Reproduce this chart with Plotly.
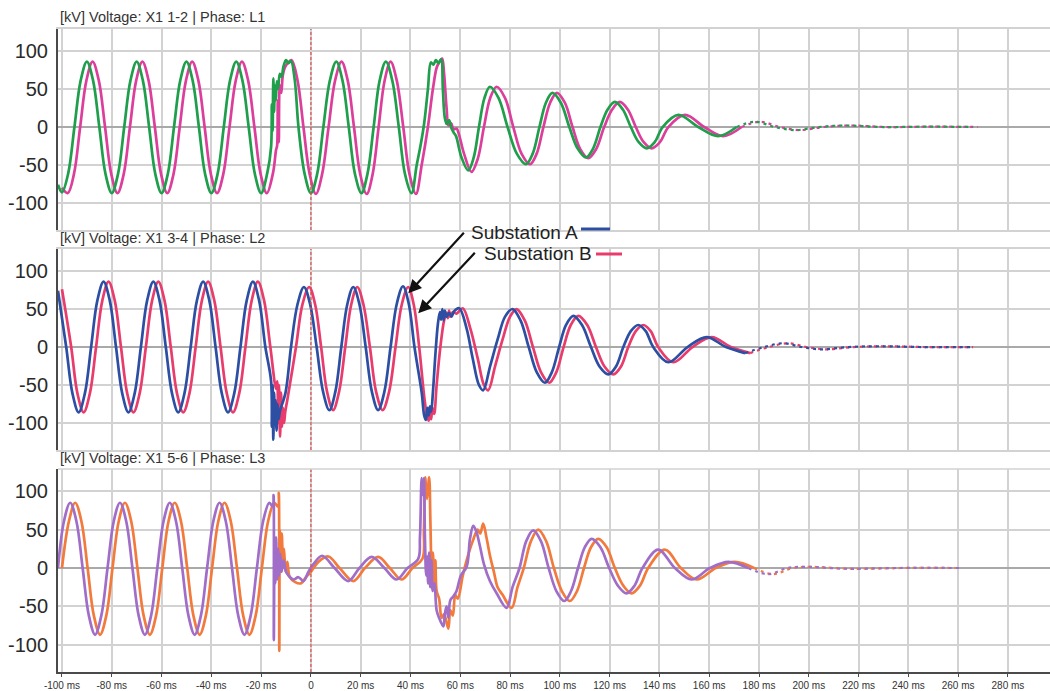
import numpy as np
import plotly.graph_objects as go

# ---------------- DATA (key points: time in ms, voltage in kV) ----------------
# Phase L1 (A = green, B = magenta)
l1_a_t = [-101.6, -100, -97.5, -95, -92.5, -90, -87.5, -85, -82.5, -80, -77.5, -75, -72.5, -70, -67.5, -65,
          -62.5, -60, -57.5, -55, -52.5, -50, -47.5, -45, -42.5, -40, -37.5, -35, -32.5, -30, -27.5, -25,
          -22.5, -20, -17.5,
          -16, -15.7, -15.4, -15.1, -14.8, -14.5, -14.1, -13.7, -13.2, -12.5, -11.8, -11, -10, -9, -8,
          -6.5, -5, -2.5, 0, 2.5, 5, 7.6, 10.2, 12.7, 15.2, 17.7, 20.3, 22.7, 25.2, 27.6, 30.1, 32.7, 35.3,
          37.8, 40.4,
          42.5, 44, 45.5, 47, 48.2, 49.2, 50.2, 51.2, 52.3, 53, 53.8, 54.6, 55.5, 56.5, 57.5, 58.3, 60.5, 63.2,
          65.4, 67.5, 69.7, 71.9, 75.4, 79, 82.7, 86.4, 89.1, 91.8, 94.4, 97, 100.4, 103.8, 107.1, 110.5,
          113.4, 116.3, 119.2, 122.1, 125.3, 128.5, 131.7, 134.9, 138.1, 141.3,
          147.6, 155.6, 163.6, 171, 178.4, 186.4, 194.4, 204, 213.9, 230, 248, 266]
l1_a_v = [-76, -86, -61, 0, 61, 86, 61, 0, -62, -87, -62, 0, 61, 86, 61, 0,
          -62, -87, -62, 0, 61, 86, 61, 0, -62, -87, -62, 0, 61, 86, 61, 0,
          -62, -87, -60,
          -26, 30, -5, 64, 20, 55, 35, 60, 50, 70, 66, 80, 88, 84, 87,
          62, 0, -62, -87, -62, 0, 61, 86, 61, 0, -62, -87, -62, 0, 61, 86, 61, 0,
          -62, -87,
          -50, -25, 5, 50, 85, 82, 88, 84, 89, 50, 12, 4, 9, -2, -8, -12, -40, -57,
          -40, 0, 38, 53, 38, 0, -35, -49, -35, 0, 32, 45, 32, 0, -28, -40,
          -28, 0, 23, 33, 23, 0, -20, -28, -20, 0,
          16, 0, -12, 0, 7, 0, -4, 0, 2, 0, 0.5, 0]
l1_b_t = [-100, -97.7, -95.2, -92.7, -90.2, -87.7, -85.2, -82.7, -80.2, -77.7, -75.2, -72.7, -70.2, -67.7,
          -65.2, -62.7, -60.2, -57.7, -55.2, -52.7, -50.2, -47.7, -45.2, -42.7, -40.2, -37.7, -35.2, -32.7,
          -30.2, -27.7, -25.2, -22.7, -20.2, -17.7,
          -15.2, -14, -13.6, -13.3, -12.9, -12.5, -11.9, -11.3, -10.5, -9.3, -7.8,
          -5.4, -3, -0.5, 2, 4.5, 7.1, 9.7, 12.3, 14.8, 17.3, 19.8, 22.4, 24.8, 27.2, 29.6, 32, 34.5, 37.1,
          39.6, 42.2,
          44.5, 47, 49, 50.5, 51.5, 52.7, 53.5, 54.5, 55.3, 56.3, 57.3, 58.5, 59.5, 61.5, 64.5,
          67, 69.5, 72, 74.6, 78, 81.3, 84.6, 88, 90.7, 93.4, 96.1, 98.8, 102, 105.1, 108.2, 111.4,
          114.6, 117.8, 121, 124.1, 127.3, 130.5, 133.7, 136.9, 140.2, 143.6,
          150.3, 158, 165.6, 173, 180.4, 188.4, 196.4, 206, 215.9, 232, 250, 268]
l1_b_v = [-80, -87, -62, 0, 61, 86, 61, 0, -62, -87, -62, 0, 61, 86,
          61, 0, -62, -87, -62, 0, 61, 86, 61, 0, -62, -87, -62, 0,
          61, 86, 61, 0, -62, -87,
          -60, -30, -25, 35, -20, 55, 45, 68, 78, 84, 88,
          62, 0, -62, -88, -62, 0, 61, 86, 61, 0, -62, -88, -62, 0, 61, 86, 61, 0,
          -62, -88,
          -50, 0, 50, 78, 85, 90, 70, 25, 2, 5, -3, -2, -10, -35, -59,
          -42, 0, 38, 53, 38, 0, -35, -49, -35, 0, 32, 45, 32, 0, -29, -41,
          -29, 0, 23, 33, 23, 0, -20, -28, -20, 0,
          16, 0, -12, 0, 7, 0, -4, 0, 2, 0, 0.5, 0]

# Phase L2 (A = blue, B = red)
l2_a_t = [-101.6, -98.3, -95.8, -93.3, -90.8, -88.3, -85.8, -83.3, -80.8, -78.3, -75.8, -73.3, -70.8, -68.3,
          -65.8, -63.3, -60.8, -58.3, -55.8, -53.3, -50.8, -48.3, -45.8, -43.3, -40.8, -38.3, -35.8, -33.3,
          -30.8, -28.3, -25.8, -23.3, -20.8, -18.3,
          -16, -15.7, -15.4, -15.1, -14.8, -14.5, -14.2, -13.8, -13.4, -13, -12.5,
          -10.2, -8, -5.4, -2.8, -0.3, 2.3, 4.9, 7.4, 9.8, 12.2, 14.6, 17, 19.5, 22, 24.5, 27, 29.5, 32, 34.5,
          37, 39.3, 41.6,
          44.5, 45.5, 46.2, 46.8, 47.3, 47.8, 48.3, 49, 50, 51, 51.8, 52.3, 52.8, 53.3, 53.8, 54.5, 55.5, 56.5,
          57.5, 59.6, 62.5, 65, 67.5, 69.2, 72, 75, 78, 81,
          84.2, 87.5, 90.7, 94, 96.8, 99.7, 102.5, 105.4, 108.9, 112.5, 116, 119.5, 122.5, 125.5, 128.5,
          131.5, 134.5, 137.5,
          143.6, 151.3, 159, 166.7, 174.4, 182, 189.8, 197, 205, 216, 228, 245, 265]
l2_a_v = [74, 0, -61, -86, -61, 0, 61, 86, 61, 0, -61, -86, -61, 0,
          61, 86, 61, 0, -61, -86, -61, 0, 61, 86, 61, 0, -61, -86,
          -61, 0, 61, 86, 61, 0,
          -45, -105, -50, -122, -60, -95, -70, -110, -75, -95, -85,
          -60, 0, 56, 79, 56, 0, -59, -83, -59, 0, 56, 79, 56, 0, -59, -83, -59, 0, 57,
          80, 57, 0,
          -60, -90, -96, -80, -90, -78, -85, -60, -10, 30, 46, 36, 50, 35, 48, 40, 45, 40,
          47, 51, 25, -15, -50, -57, -25, 10, 40, 50,
          35, 0, -33, -47, -33, 0, 29, 41, 29, 0, -26, -36, -26, 0, 21,
          29, 21, 0,
          -20, 0, 13, 0, -8, 0, 5, 0, -3, 0, 1, 0, 0]
l2_b_t = [-100, -96.3, -93.8, -91.3, -88.8, -86.3, -83.8, -81.3, -78.8, -76.3, -73.8, -71.3, -68.8, -66.3,
          -63.8, -61.3, -58.8, -56.3, -53.8, -51.3, -48.8, -46.3, -43.8, -41.3, -38.8, -36.3, -33.8, -31.3,
          -28.8, -26.3, -23.8, -21.3, -18.8, -16.3,
          -14, -13.5, -13.2, -12.8, -12.4, -12, -11.6, -11.2, -10.8, -10.3, -9.5,
          -6, -3.4, -0.7, 1.7, 4.1, 6.5, 8.9, 11.3, 13.8, 16.2, 18.6, 21.1, 23.7, 26.2, 28.8, 31.4, 34, 36.5,
          39.1, 41.3, 43.5,
          45.5, 46.5, 47.3, 47.8, 48.3, 48.8, 49.5, 50.5, 52, 53.5, 54.5, 55, 55.5, 56, 57, 58.5, 61, 64, 67,
          69.5, 71.2, 74, 77, 80, 82.6,
          85.9, 89.2, 92.4, 95.7, 98.6, 101.5, 104.4, 107.4, 111, 114.5, 118, 121.5, 124.5, 127.5, 130.5,
          133.5, 136.5, 139.5,
          145.6, 153.3, 161, 168.7, 176.4, 184, 191.8, 199, 207, 218, 230, 247, 266]
l2_b_v = [76, 0, -61, -86, -61, 0, 61, 86, 61, 0, -61, -86, -61, 0,
          61, 86, 61, 0, -61, -86, -61, 0, 61, 86, 61, 0, -61, -86,
          -61, 0, 61, 86, 61, 0,
          -55, -45, -100, -50, -118, -60, -105, -80, -100, -85, -70,
          0, 56, 79, 56, 0, -59, -83, -59, 0, 56, 79, 56, 0, -59, -83, -59, 0, 56,
          79, 56, 0,
          -65, -88, -97, -85, -95, -80, -88, -50, 0, 35, 45, 38, 48, 40, 46, 44, 51, 25, -15,
          -50, -57, -25, 10, 40, 50,
          35, 0, -33, -47, -33, 0, 29, 41, 29, 0, -26, -36, -26, 0, 21,
          29, 21, 0,
          -20, 0, 13, 0, -8, 0, 5, 0, -3, 0, 1, 0, 0]

# Phase L3 (A = purple, B = orange)
l3_a_t = [-101.6, -99.2, -96.7, -94.2, -91.7, -89.2, -86.7, -84.2, -81.7, -79.2, -76.7, -74.2, -71.7, -69.2,
          -66.7, -64.2, -61.7, -59.2, -56.7, -54.2, -51.7, -49.2, -46.7, -44.2, -41.7, -39.2, -36.7, -34.2,
          -31.7, -29.2, -26.7, -24.2, -21.7, -19.2, -16.7,
          -15.3, -15, -14.9, -14.6, -14.3, -14, -13.6, -13.2, -12.8, -12.3, -11.8,
          -11, -10, -9, -7, -5, -3, -1, 1, 4.5, 9.5, 15, 19.5, 24.4, 29.5, 34.4, 38.8, 43.1, 43.8, 44.5, 45,
          45.4, 45.8, 46.3, 46.7, 47.1, 47.5, 47.9, 48.4, 48.9, 49.6, 50.5, 51.5, 53.2, 53.8, 54.5, 55.2, 56,
          57.2, 58.5, 60.2, 62.6, 63.9, 65.2, 66.4, 67.8, 69.5, 71.9, 74.6, 78.6, 81, 83.8,
          86.5, 89.3, 92.4, 95.5, 98.6, 101.8, 104.5, 107.3, 110, 112.8, 116.3, 119.8, 123.3, 126.8, 130,
          133.2,
          139.5, 146.2, 152.9, 160.3, 167.7, 175.7, 183.7, 191.4, 199, 215, 235, 260.7]
l3_a_v = [0, 61, 85, 61, 0, -62, -87, -62, 0, 61, 85, 61, 0, -62,
          -87, -62, 0, 61, 85, 61, 0, -62, -87, -62, 0, 61, 85, 61,
          0, -62, -87, -62, 0, 61, 85,
          80, 95, -94, 30, -20, 40, -15, 25, -10, 18, -5,
          10, -5, -10, -15, -12, -17, -5, 5, 16, 0, -17, 0, 14.5, 0, -15, 0, 12, 40, 117, 95,
          117, 40, -10, 15, -20, 20, -25, 10, -30, -20, -55, -65, -76, -60, -50, -65, -42,
          -37, -30, -10, 2, 38, 55, 48, 30, 5, -17, -33, -52, -25, 0,
          35, 49, 35, 0, -30, -43, -30, 0, 27, 38, 27, 0, -23, -33, -23,
          0,
          24, 0, -15, 0, 8, 0, -8, 0, 1.5, -1, 0, 0]
l3_b_t = [-100, -97.2, -94.7, -92.2, -89.7, -87.2, -84.7, -82.2, -79.7, -77.2, -74.7, -72.2, -69.7, -67.2,
          -64.7, -62.2, -59.7, -57.2, -54.7, -52.2, -49.7, -47.2, -44.7, -42.2, -39.7, -37.2, -34.7, -32.2,
          -29.7, -27.2, -24.7, -22.2, -19.7, -17.2, -14.7,
          -13.2, -12.9, -12.7, -12.5, -12.1, -11.7, -11.2, -10.8, -10.2, -9.5, -8.5, -6.5, -4, -2, 0, 3, 7,
          11.5, 17, 21.7, 27, 31.7, 36.4, 40.8, 44.8,
          45.4, 45.9, 46.6, 47.5, 48, 48.5, 49, 49.5, 50, 50.5, 51.5, 52.5, 53.5, 55.2, 56, 57, 58, 59, 61, 63,
          65, 67, 68, 69.2, 70.5, 72, 73.5, 75, 77, 80.6, 83, 85.5,
          88.4, 91.3, 94.5, 97.6, 100.8, 104, 106.9, 109.7, 112.5, 115.4, 118.8, 122.1, 125.5, 128.8, 132.2,
          135.5,
          142.2, 148.6, 155, 162.6, 170.3, 178, 185.7, 193.4, 201, 217, 237, 261]
l3_b_v = [0, 61, 85, 61, 0, -62, -87, -62, 0, 61, 85, 61, 0, -62,
          -87, -62, 0, 61, 85, 61, 0, -62, -87, -62, 0, 61, 85, 61,
          0, -62, -87, -62, 0, 61, 85,
          80, 98, -108, 50, -5, 45, 0, 25, -5, 8, -12, -18, -20, -12, -5, 8, 15,
          0, -17, 0, 14.5, 0, -15, 0, 12,
          50, 118, 90, 118, 60, 0, 20, -25, 10, -30, -40, -65, -60, -79, -55, -62, -35, -40, -10, 15,
          35, 50, 45, 58, 40, 15, -5, -25, -35, -52, -25, 0,
          35, 50, 35, 0, -30, -43, -30, 0, 27, 38, 27, 0, -23, -33, -23,
          0,
          24, 0, -15, 0, 8, 0, -8, 0, 1.5, -1, 0, 0]

series = [
    # (panel, t, v, colour) - trailing curve drawn first, leading curve on top
    (1, l1_b_t, l1_b_v, "#dc3f9b"),
    (1, l1_a_t, l1_a_v, "#1f9e4c"),
    (2, l2_b_t, l2_b_v, "#e83c6c"),
    (2, l2_a_t, l2_a_v, "#2c4fa3"),
    (3, l3_b_t, l3_b_v, "#f27a3c"),
    (3, l3_a_t, l3_a_v, "#a06ec8"),
]
panel_titles = ["[kV] Voltage: X1 1-2 | Phase: L1",
                "[kV] Voltage: X1 3-4 | Phase: L2",
                "[kV] Voltage: X1 5-6 | Phase: L3"]
x_ticks = [-100, -80, -60, -40, -20, 0, 20, 40, 60, 80, 100, 120, 140, 160, 180, 200, 220, 240, 260, 280]
x_ticktext = [("0" if v == 0 else f"{v} ms") for v in x_ticks]
y_ticks = [-100, -50, 0, 50, 100]
y_ticktext = ["-100", "-50", "0", "50", "100"]
TAIL_START = 178  # ms, after which the recorder trace is drawn broken

# ---------------- LAYOUT GEOMETRY ----------------
W, H = 1050, 691
L, R, T, B = 58, 0, 29, 19
ph = H - T - B


def py(pix):  # pixel y -> paper y
    return (H - B - pix) / ph


def px(pix):
    return (pix - L) / (W - L - R)


domains = [(py(230), 1.0), (py(450), py(249)), (0.0, py(469))]
XR = [-101.6, 296.9]
YR = [-135.5, 129]
GRID = "#d2d2d2"
DARK = "#4a4a4a"

fig = go.Figure()

for panel, t, v, col in series:
    assert len(t) == len(v), (panel, len(t), len(v))
    t = np.asarray(t, dtype=float)
    v = np.asarray(v, dtype=float)
    idx = int(np.where(t <= TAIL_START)[0][-1])
    xa = "x" if panel == 1 else f"x{panel}"
    ya = "y" if panel == 1 else f"y{panel}"
    fig.add_trace(go.Scatter(x=t[:idx + 1], y=v[:idx + 1], mode="lines", xaxis=xa, yaxis=ya,
                             line=dict(color=col, width=2.7, shape="spline", smoothing=1.0),
                             showlegend=False, hoverinfo="skip"))
    fig.add_trace(go.Scatter(x=t[idx:], y=v[idx:], mode="lines", xaxis=xa, yaxis=ya,
                             line=dict(color=col, width=2.2, shape="spline", smoothing=1.0, dash="3px,4px"),
                             showlegend=False, hoverinfo="skip"))

layout = dict(width=W, height=H, margin=dict(l=L, r=R, t=T, b=B),
              paper_bgcolor="white", plot_bgcolor="white", showlegend=False,
              font=dict(family="Liberation Sans, Arial, sans-serif", color="#333"))

for i in range(3):
    k = "" if i == 0 else str(i + 1)
    last = i == 2
    layout[f"xaxis{k}"] = dict(
        domain=[0, 1], anchor=f"y{k}", range=XR, tickmode="array", tickvals=x_ticks,
        ticktext=x_ticktext, showticklabels=last, tickfont=dict(size=10, color="#333"),
        ticks="outside" if last else "", ticklen=3, tickcolor=DARK,
        showgrid=True, gridcolor=GRID, gridwidth=1.5, zeroline=False,
        showline=True, linecolor=(DARK if last else GRID), linewidth=(2 if last else 1.5),
        mirror=(False if last else True), fixedrange=True)
    layout[f"yaxis{k}"] = dict(
        domain=list(domains[i]), anchor=f"x{k}", range=YR, tickmode="array", tickvals=y_ticks,
        ticktext=y_ticktext, tickfont=dict(size=20, color="#2a2a2a"), ticks="",
        showgrid=True, gridcolor=GRID, gridwidth=1.5,
        zeroline=True, zerolinecolor="#a9a9a9", zerolinewidth=1.5,
        showline=True, linecolor=DARK, linewidth=2, ticklabelstandoff=4, fixedrange=True)

fig.update_layout(**layout)

shapes = []
annotations = []
title_y = [17, 238, 458]
for i in range(3):
    k = "" if i == 0 else str(i + 1)
    shapes.append(dict(type="line", xref=f"x{k}", yref=f"y{k} domain", x0=0, x1=0, y0=0, y1=1,
                       line=dict(color="#e0504a", width=1.2, dash="3px,2px")))
    annotations.append(dict(text=panel_titles[i], xref="paper", yref="paper", x=0, y=py(title_y[i]),
                            xanchor="left", yanchor="middle", showarrow=False,
                            font=dict(size=14.5, color="#333")))
# top border of the last panel
shapes.append(dict(type="line", xref="paper", yref="y3 domain", x0=0, x1=1, y0=1, y1=1,
                   line=dict(color=GRID, width=1.5)))

# Substation labels with small legend lines
annotations.append(dict(text="Substation A", xref="paper", yref="paper", x=px(469), y=py(232),
                        xanchor="left", yanchor="middle", showarrow=False,
                        font=dict(size=19, color="#222")))
annotations.append(dict(text="Substation B", xref="paper", yref="paper", x=px(482), y=py(253),
                        xanchor="left", yanchor="middle", showarrow=False,
                        font=dict(size=19, color="#222")))
shapes.append(dict(type="line", xref="paper", yref="paper", x0=px(581), x1=px(610), y0=py(229), y1=py(229),
                   line=dict(color="#2c4fa3", width=3)))
shapes.append(dict(type="line", xref="paper", yref="paper", x0=px(596), x1=px(622), y0=py(254), y1=py(254),
                   line=dict(color="#e83c6c", width=3)))
# arrows
annotations.append(dict(text="", xref="x2", yref="y2", x=39.1, y=70.7, ax=57, ay=-62,
                        showarrow=True, arrowhead=2, arrowsize=1.2, arrowwidth=2.2, arrowcolor="#111"))
annotations.append(dict(text="", xref="x2", yref="y2", x=43.1, y=44.3, ax=58, ay=-62,
                        showarrow=True, arrowhead=2, arrowsize=1.2, arrowwidth=2.2, arrowcolor="#111"))

fig.update_layout(shapes=shapes, annotations=annotations)
fig.write_html("out.html")
